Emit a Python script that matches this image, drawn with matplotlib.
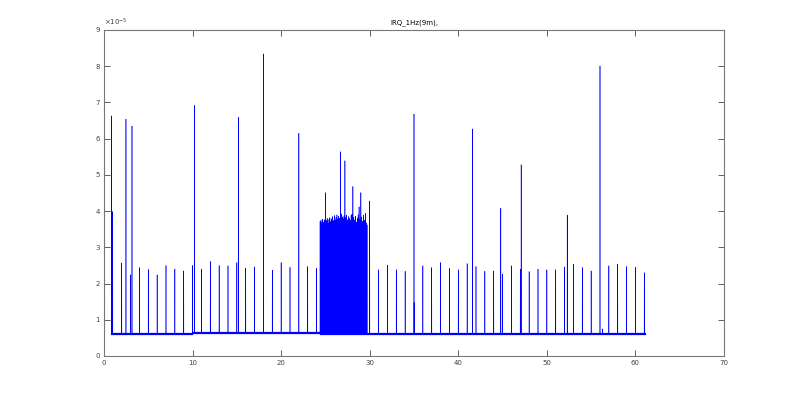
import matplotlib
matplotlib.use('Agg')
import matplotlib.pyplot as plt
import numpy as np

# isolated spikes: time (s), peak (x1e-5)
spike_t = [0.83, 0.98, 2.0, 2.48, 3.0, 3.16, 4.0, 5.0, 6.0, 7.0, 8.0, 9.0, 10.0, 10.2,
           11.0, 12.0, 13.0, 14.0, 15.0, 15.2, 16.0, 17.0, 18.0, 19.0, 20.0, 21.0, 22.0,
           23.0, 24.0, 30.0, 31.0, 32.0, 33.0, 34.0, 35.0, 35.02, 36.0, 37.0, 38.0, 39.0,
           40.0, 41.0, 41.6, 42.0, 43.0, 44.0, 44.8, 45.0, 46.0, 47.0, 47.1, 48.0, 49.0,
           50.0, 51.0, 52.0, 52.3, 53.0, 54.0, 55.0, 56.0, 56.3, 57.0, 58.0, 59.0, 60.0, 61.0]
spike_h = [6.63, 3.99, 2.57, 6.54, 2.24, 6.35, 2.44, 2.39, 2.24, 2.50, 2.40, 2.35, 2.50, 6.92,
           2.40, 2.61, 2.50, 2.49, 2.58, 6.59, 2.43, 2.46, 8.34, 2.37, 2.58, 2.45, 6.15,
           2.47, 2.42, 4.28, 2.38, 2.51, 2.38, 2.34, 6.68, 1.47, 2.49, 2.44, 2.58, 2.42,
           2.38, 2.55, 6.27, 2.47, 2.34, 2.35, 4.08, 2.26, 2.49, 2.40, 5.28, 2.33, 2.40,
           2.38, 2.38, 2.46, 3.89, 2.54, 2.44, 2.35, 8.01, 0.75, 2.49, 2.54, 2.47, 2.45, 2.30]

# burst between ~24.4 s and 29.7 s (one peak every 0.1 s)
burst_start = 24.4
burst_step = 0.1
burst_h = [3.72, 3.75, 3.68, 3.78, 3.70, 3.76, 4.51, 3.74, 3.80, 3.66, 3.77, 3.82, 3.71,
           3.79, 3.85, 3.74, 3.88, 3.76, 3.83, 3.90, 3.78, 3.86, 3.81, 5.64, 3.92, 3.84,
           3.79, 3.87, 5.39, 3.82, 3.89, 3.76, 3.85, 3.80, 3.74, 3.88, 3.92, 4.68, 3.83,
           3.76, 3.86, 3.70, 3.81, 3.90, 4.12, 3.78, 4.51, 3.84, 3.72, 3.89, 3.75, 3.94,
           3.68, 3.62]

# baseline level per segment
base_edges = [0.8, 10.0, 24.4, 61.2]
base_levels = [0.60, 0.63, 0.60]


def base_at(t):
    for i in range(len(base_levels)):
        if t <= base_edges[i + 1]:
            return base_levels[i]
    return base_levels[-1]


burst_t = [burst_start + i * burst_step for i in range(len(burst_h))]
all_t = spike_t + burst_t
all_h = spike_h + burst_h
order = np.argsort(all_t)

xs = [base_edges[0]]
ys = [base_levels[0]]
for k in order:
    t = all_t[k]
    b = base_at(t)
    xs += [t - 0.01, t, t + 0.01]
    ys += [b, all_h[k], b]
xs.append(base_edges[-1])
ys.append(base_levels[-1])

fig = plt.figure(figsize=(8, 4), dpi=100)
ax = fig.add_axes([0.13, 0.11, 0.775, 0.815])

ax.plot(xs, ys, color='#0000ff', lw=0.4)
# thick noisy-looking floor
ax.hlines(base_levels, base_edges[:-1], base_edges[1:], color='#0000ff', lw=1.6)

ax.set_xlim(0, 70)
ax.set_ylim(0, 9)
ax.set_xticks(range(0, 71, 10))
ax.set_yticks(range(0, 10))
ax.tick_params(direction='in', length=4, width=0.6, labelsize=5, colors='#444444',
               top=True, right=True, pad=3)
for s in ax.spines.values():
    s.set_color('#777777')
    s.set_linewidth(0.8)
ax.set_title('IRQ_1Hz(9m),', fontsize=5, pad=4)
ax.text(0, 1.005, r'$\times10^{-5}$', transform=ax.transAxes, fontsize=5,
        ha='left', va='bottom', color='#444444')

fig.savefig('out.png', dpi=100)
